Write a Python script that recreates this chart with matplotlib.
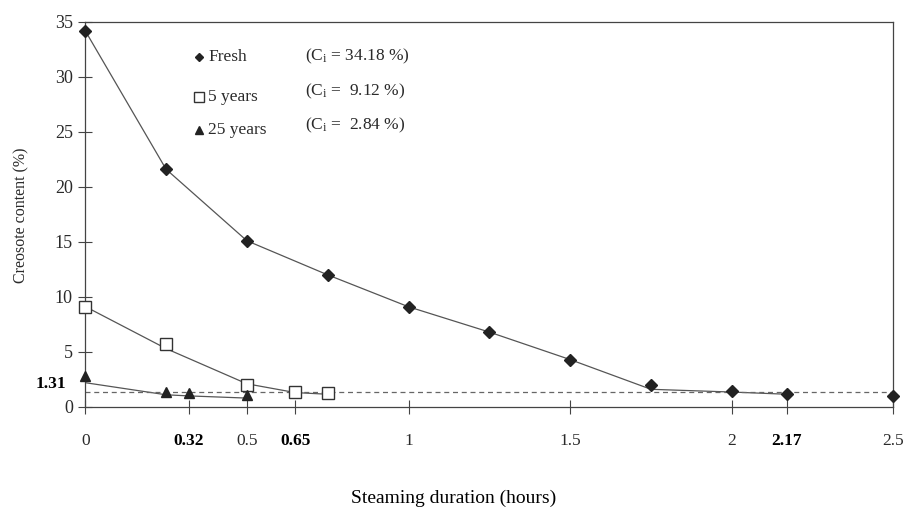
import matplotlib
matplotlib.use('Agg')
import matplotlib.pyplot as plt
import matplotlib.transforms as mtransforms

plt.rcParams['font.family'] = ['Liberation Serif', 'DejaVu Serif']
plt.rcParams['mathtext.fontset'] = 'custom'
plt.rcParams['mathtext.rm'] = 'Liberation Serif'
plt.rcParams['mathtext.it'] = 'Liberation Serif:italic'

# measured points
fresh_x = [0, 0.25, 0.5, 0.75, 1.0, 1.25, 1.5, 1.75, 2.0, 2.17, 2.5]
fresh_y = [34.18, 21.6, 15.1, 12.0, 9.1, 6.8, 4.3, 2.0, 1.4, 1.2, 1.0]
five_x = [0, 0.25, 0.5, 0.65, 0.75]
five_y = [9.12, 5.7, 2.0, 1.35, 1.3]
tw5_x = [0, 0.25, 0.32, 0.5]
tw5_y = [2.84, 1.35, 1.3, 1.1]

# drawn trend curves
fresh_cx = [0, 0.25, 0.5, 0.75, 1.0, 1.25, 1.5, 1.75, 2.0, 2.17]
fresh_cy = [34.18, 21.6, 15.1, 12.0, 9.1, 6.8, 4.3, 1.6, 1.35, 1.15]
five_cx = [0, 0.25, 0.5, 0.65, 0.75]
five_cy = [9.12, 5.3, 2.1, 1.3, 1.15]
tw5_cx = [0, 0.25, 0.32, 0.5]
tw5_cy = [2.2, 1.1, 1.0, 0.8]

limit = 1.31
xticks = [0, 0.32, 0.5, 0.65, 1, 1.5, 2, 2.17, 2.5]
xtick_labels = ['0', '0.32', '0.5', '0.65', '1', '1.5', '2', '2.17', '2.5']
bold_x = ['0.32', '0.65', '2.17']
yticks = [0, 5, 10, 15, 20, 25, 30, 35]

series_names = ['Fresh', '5 years', '25 years']
ci_labels = [r'(C$_{\mathrm{i}}$ = 34.18 %)', r'(C$_{\mathrm{i}}$ =  9.12 %)',
             r'(C$_{\mathrm{i}}$ =  2.84 %)']

line_c = '#555555'
txt_c = '#2a2a2a'

fig = plt.figure(figsize=(9.07, 5.19), dpi=100)
ax = fig.add_axes([0.094, 0.216, 0.891, 0.742])

ax.plot(fresh_cx, fresh_cy, color=line_c, lw=0.9)
ax.plot(five_cx, five_cy, color=line_c, lw=0.9)
ax.plot(tw5_cx, tw5_cy, color=line_c, lw=0.9)
ax.axhline(limit, color='#666666', lw=0.9, dashes=(4, 3))

ax.plot(fresh_x, fresh_y, ls='none', marker='D', ms=6, color='#222222',
        clip_on=False, zorder=4)
ax.plot(five_x, five_y, ls='none', marker='s', ms=8, mfc='white',
        mec='#333333', mew=1.0, clip_on=False, zorder=4)
ax.plot(tw5_x, tw5_y, ls='none', marker='^', ms=7, color='#222222',
        clip_on=False, zorder=4)

ax.set_xlim(0, 2.5)
ax.set_ylim(0, 35)
ax.set_xticks(xticks)
ax.set_xticklabels(xtick_labels)
ax.set_yticks(yticks)
ax.tick_params(axis='x', direction='inout', length=10, width=0.8,
               colors='#444444', labelcolor=txt_c, labelsize=12.5, pad=14)
ax.tick_params(axis='y', direction='inout', length=10, width=0.8,
               colors='#444444', labelcolor=txt_c, labelsize=13, pad=4)
for lab in ax.get_xticklabels():
    if lab.get_text() in bold_x:
        lab.set_fontweight('bold')
        lab.set_color('black')
for sp in ax.spines.values():
    sp.set_color('#444444')
    sp.set_linewidth(0.9)

trans = mtransforms.blended_transform_factory(ax.transAxes, ax.transData)
ax.text(-0.023, limit, '1.31', transform=trans, ha='right', va='bottom',
        fontsize=12.5, fontweight='bold', color='black')

# legend
name_rows = [0.909, 0.805, 0.72]
ci_rows = [0.909, 0.818, 0.73]
marks = [dict(marker='D', ms=4.5, color='#222222'),
         dict(marker='s', ms=6.5, mfc='white', mec='#333333', mew=1.0),
         dict(marker='^', ms=5.5, color='#222222')]
for yn, yc, name, ci, mk in zip(name_rows, ci_rows, series_names, ci_labels, marks):
    ax.plot([0.141], [yn], transform=ax.transAxes, ls='none', **mk)
    ax.text(0.152, yn, name, transform=ax.transAxes, va='center',
            fontsize=12.5, color=txt_c)
    ax.text(0.272, yc, ci, transform=ax.transAxes, va='center',
            fontsize=12.5, color=txt_c)

fig.text(0.024, 0.586, 'Creosote content (%)', rotation=90, ha='center',
         va='center', fontsize=11.5, color=txt_c)
fig.text(0.5, 0.04, 'Steaming duration (hours)', ha='center', va='center',
         fontsize=14, color='black')

fig.savefig('out.png', dpi=100)
